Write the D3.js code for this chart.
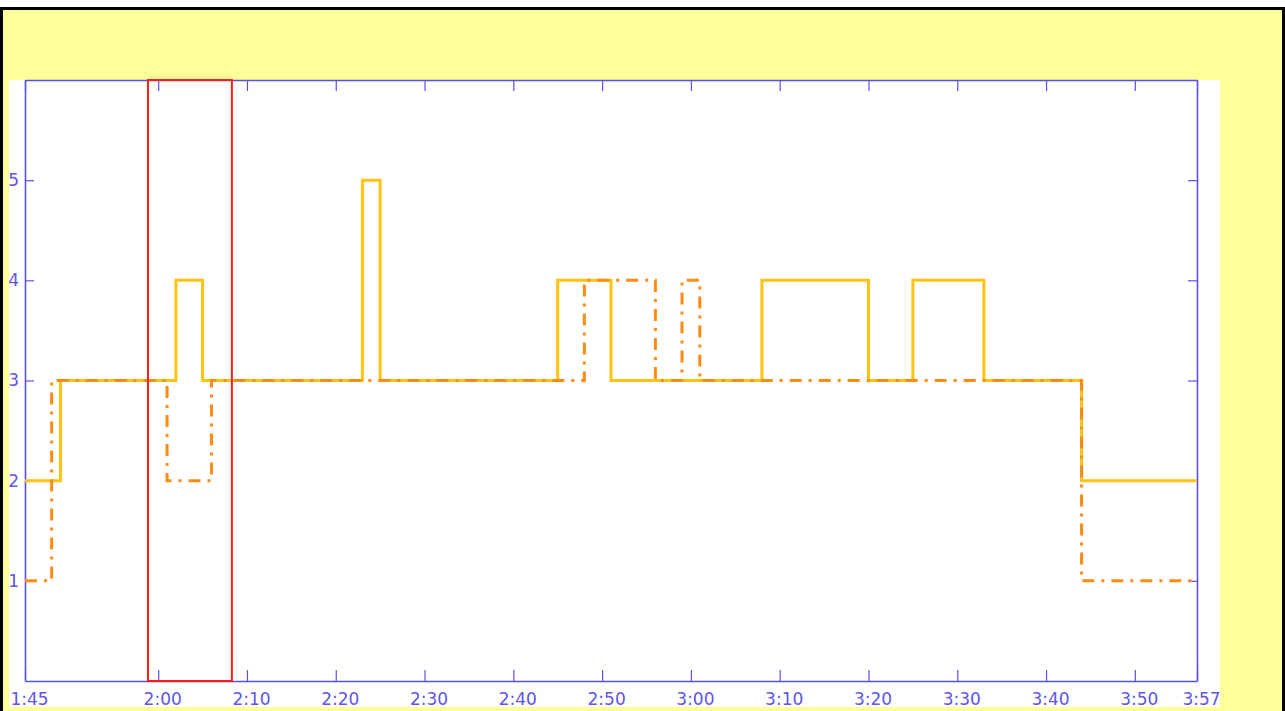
<!DOCTYPE html>
<html>
<head>
<meta charset="utf-8">
<script src="https://cdn.jsdelivr.net/npm/d3@7"></script>
<style>
  html, body { margin: 0; padding: 0; background: #ffffff; }
  svg { display: block; }
</style>
</head>
<body>
<svg id="chart" width="1285" height="711"></svg>
<script>
// ---- data (minutes since 0:00) ----
const tickMinutes = [105, 120, 130, 140, 150, 160, 170, 180, 190, 200, 210, 220, 230, 237];
const tickLabels = ["1:45", "2:00", "2:10", "2:20", "2:30", "2:40", "2:50", "3:00", "3:10", "3:20", "3:30", "3:40", "3:50", "3:57"];
const yTicks = [1, 2, 3, 4, 5];
const yTickLabels = ["1", "2", "3", "4", "5"];

const solidTimes  = [105, 109, 122, 125, 143, 145, 165, 171, 188, 200, 205, 213, 224, 237];
const solidValues = [2,   3,   4,   3,   5,   3,   4,   3,   4,   3,   4,   3,   2,   2];

const dashTimes  = [105, 108, 121, 126, 168, 176, 179, 181, 224, 237];
const dashValues = [1,   3,   2,   3,   4,   3,   4,   3,   1,   1];

const highlightRange = [118.85, 128.3];

// ---- drawing ----
const svg = d3.select("#chart");
const W = 1285, H = 711;
const blue = "#5a4ff0";

// page background + border
svg.append("rect").attr("x", 0).attr("y", 0).attr("width", W).attr("height", H).attr("fill", "#ffffff");
svg.append("rect").attr("x", 1.5).attr("y", 8.5).attr("width", W - 3).attr("height", H + 10)
  .attr("fill", "#ffff99").attr("stroke", "#000").attr("stroke-width", 3);

// white plotting panel
svg.append("rect").attr("x", 9).attr("y", 80).attr("width", 1211).attr("height", 627).attr("fill", "#ffffff");

const x = d3.scaleLinear().domain([105, 237]).range([25, 1197]);
const y = d3.scaleLinear().domain([0, 6]).range([681, 80]);

const font = "'DejaVu Sans', sans-serif";

// axes
const gB = svg.append("g").attr("transform", `translate(0,${y(0)})`)
  .call(d3.axisBottom(x).tickValues(tickMinutes).tickSizeInner(-11).tickSizeOuter(0).tickPadding(12)
    .tickFormat((d, i) => tickLabels[i]));
const gT = svg.append("g").attr("transform", `translate(0,${y(6)})`)
  .call(d3.axisTop(x).tickValues(tickMinutes).tickSizeInner(-11).tickSizeOuter(0).tickFormat(""));
const gL = svg.append("g").attr("transform", `translate(${x(105)},0)`)
  .call(d3.axisLeft(y).tickValues(yTicks).tickSizeInner(-9).tickSizeOuter(0).tickPadding(6)
    .tickFormat((d, i) => yTickLabels[i]));
const gR = svg.append("g").attr("transform", `translate(${x(237)},0)`)
  .call(d3.axisRight(y).tickValues(yTicks).tickSizeInner(-9).tickSizeOuter(0).tickFormat(""));

[gB, gT, gL, gR].forEach(g => {
  g.selectAll("path.domain").attr("stroke", blue).attr("stroke-width", 1.6);
  g.selectAll(".tick line").attr("stroke", blue).attr("stroke-width", 1.2);
  g.selectAll(".tick text").attr("fill", "#6055e6").style("font-family", font).style("font-size", "17px");
});
gB.selectAll(".tick text").attr("dx", 4);

// lines
const line = (xs, vs) => d3.line()
  .x((d, i) => x(xs[i]))
  .y((d, i) => y(vs[i]))
  .curve(d3.curveStepAfter)(vs);

svg.append("path").attr("d", line(solidTimes, solidValues))
  .attr("fill", "none").attr("stroke", "#ffc20e").attr("stroke-width", 3)
  .attr("stroke-linejoin", "miter");

svg.append("path").attr("d", line(dashTimes, dashValues))
  .attr("fill", "none").attr("stroke", "#ff8a14").attr("stroke-width", 3)
  .attr("stroke-linejoin", "miter")
  .attr("stroke-dasharray", "12,7,3,7");

// highlight box
svg.append("rect")
  .attr("x", x(highlightRange[0])).attr("y", y(6))
  .attr("width", x(highlightRange[1]) - x(highlightRange[0]))
  .attr("height", y(0) - y(6))
  .attr("fill", "none").attr("stroke", "#ff1a1a").attr("stroke-width", 2);
</script>
</body>
</html>
